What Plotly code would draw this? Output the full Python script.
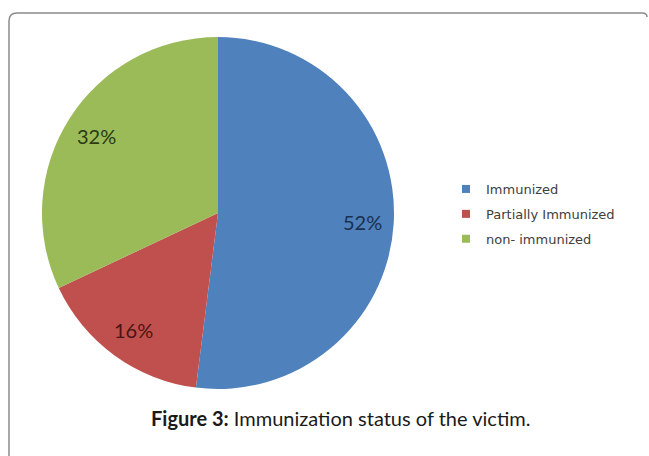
import math
import plotly.graph_objects as go

labels = ["Immunized", "Partially Immunized", "non- immunized"]
values = [52, 16, 32]
colors = ["#4F81BD", "#C0504D", "#9BBB59"]
label_colors = ["#1B2F4E", "#4A1414", "#2A3A12"]
caption_bold = "Figure 3:"
caption_rest = " Immunization status of the victim."

W, H = 649, 456
CX, CY, R = 218, 213, 176  # pie centre / radius in px

def px(x, y):
    return x / W, 1 - y / H

fig = go.Figure()
fig.add_trace(go.Pie(
    labels=labels, values=values, sort=False, direction="clockwise", rotation=0,
    marker=dict(colors=colors, line=dict(width=0)),
    textinfo="none",
    domain=dict(x=[(CX - R) / W, (CX + R) / W], y=[1 - (CY + R) / H, 1 - (CY - R) / H]),
    showlegend=False, hoverinfo="label+percent",
))

# legend entries (one group per slice to control spacing)
for lab, col in zip(labels, colors):
    fig.add_trace(go.Scatter(
        x=[None], y=[None], mode="markers", name=lab, legendgroup=lab,
        marker=dict(symbol="square", size=8, color=col), showlegend=True,
    ))

# percentage labels placed at slice mid-angles
total = sum(values)
annotations = []
cum = 0
for v, c in zip(values, label_colors):
    mid = (cum + v / 2) / total * 2 * math.pi
    cum += v
    lx = CX + 0.82 * R * math.sin(mid)
    ly = CY - 0.82 * R * math.cos(mid)
    ax_, ay_ = px(lx, ly)
    annotations.append(dict(text=f"{round(v / total * 100)}%", x=ax_, y=ay_,
                            xref="paper", yref="paper", showarrow=False,
                            xanchor="center", yanchor="middle",
                            font=dict(family="Lato", size=20, color=c)))

annotations.append(dict(text=f"<b>{caption_bold}</b>{caption_rest}", x=px(340, 0)[0],
                        y=1 - 418 / H, xref="paper", yref="paper", showarrow=False,
                        xanchor="center", yanchor="middle",
                        font=dict(family="Lato", size=20, color="#1a1a1a")))

# frame path
x0, y0 = px(9, 456)
x1, y1 = px(9, 21)
xc, yc = px(9, 13)
x2, y2 = px(17, 13)
x3, y3 = px(642, 13)
xc2, yc2 = px(647, 13)
x4, y4 = px(647, 17)
path = f"M {x0},{y0} L {x1},{y1} Q {xc},{yc} {x2},{y2} L {x3},{y3} Q {xc2},{yc2} {x4},{y4}"

fig.update_layout(
    width=W, height=H, margin=dict(l=0, r=0, t=0, b=0),
    paper_bgcolor="white", plot_bgcolor="white",
    xaxis=dict(visible=False), yaxis=dict(visible=False),
    shapes=[dict(type="path", xref="paper", yref="paper", path=path,
                 line=dict(color="#8a8a8a", width=1.5))],
    legend=dict(x=px(446, 0)[0], y=1 - 174 / H, xanchor="left", yanchor="top",
                font=dict(family="DejaVu Sans", size=13, color="#404040"),
                traceorder="grouped", tracegroupgap=5,
                bgcolor="rgba(0,0,0,0)"),
    annotations=annotations,
)

fig.write_html("out.html", config={"displayModeBar": False},
               post_script="document.body.style.margin='0px';")
